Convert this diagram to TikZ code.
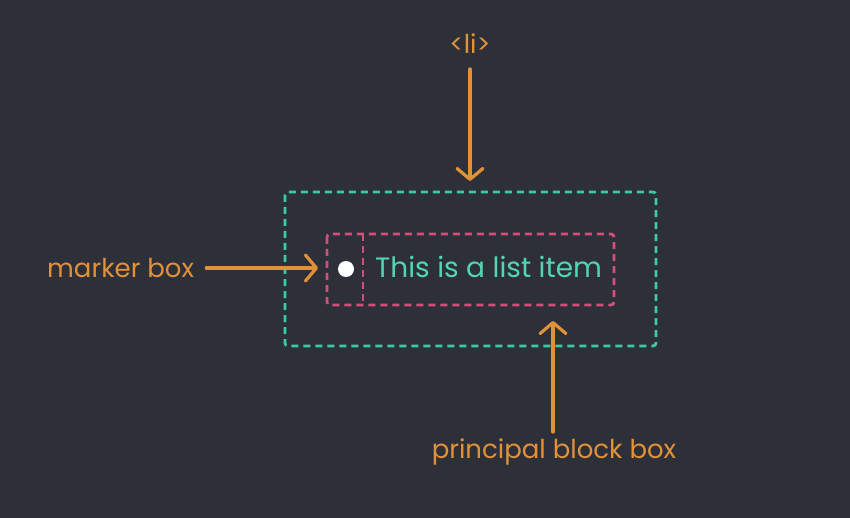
\documentclass[tikz,border=0pt]{standalone}
\usepackage{fontspec}
\setmainfont{Poppins}
\usetikzlibrary{arrows.meta}
\definecolor{bg}{HTML}{2D3039}
\definecolor{org}{HTML}{E0913A}
\definecolor{teal}{HTML}{3CC9A6}
\definecolor{pinkc}{HTML}{D24F7B}
\definecolor{txtg}{HTML}{52D6B0}
\tikzset{
  lbl/.style={text=org, font=\fontsize{26}{30}\selectfont, inner sep=0pt},
  arr/.style={draw=org, line width=3.2pt, line cap=round, -{Straight Barb[length=11pt, width=26pt, line width=3.2pt, round]}},
  dbox/.style={line width=2.8pt, dash pattern=on 7pt off 5pt, rounded corners=3pt},
}
\begin{document}
\begin{tikzpicture}[x=1pt,y=-1pt]
\fill[bg] (0,0) rectangle (850,518);
\useasboundingbox (0,0) rectangle (850,518);
\draw[dbox, teal] (285,192) rectangle (656,346);
\draw[dbox, pinkc] (327,234) rectangle (614,305);
\draw[pinkc, line width=2.8pt, dash pattern=on 7pt off 5pt] (363,234) -- (363,305);
\fill[white] (346,269) circle (8);
\node[text=txtg, font=\fontsize{28}{32}\selectfont, anchor=west, inner sep=0pt] (item) at (375,267) {This is a list item};
\node[lbl] (li) at (470,44) {<li>};
\node[lbl, anchor=west] (marker) at (47,268) {marker box};
\node[lbl] (pbb) at (554,452) {principal block box};
\coordinate (listart) at (470,69);
\coordinate (liend) at (470,181);
\coordinate (mend) at (318,268);
\coordinate (pend) at (553,321);
\coordinate (pstart) at (553,432);
\draw[arr] (listart) -- (liend);
\draw[arr] ([xshift=12pt]marker.east) -- (mend);
\draw[arr] (pstart) -- (pend);
\end{tikzpicture}
\end{document}
